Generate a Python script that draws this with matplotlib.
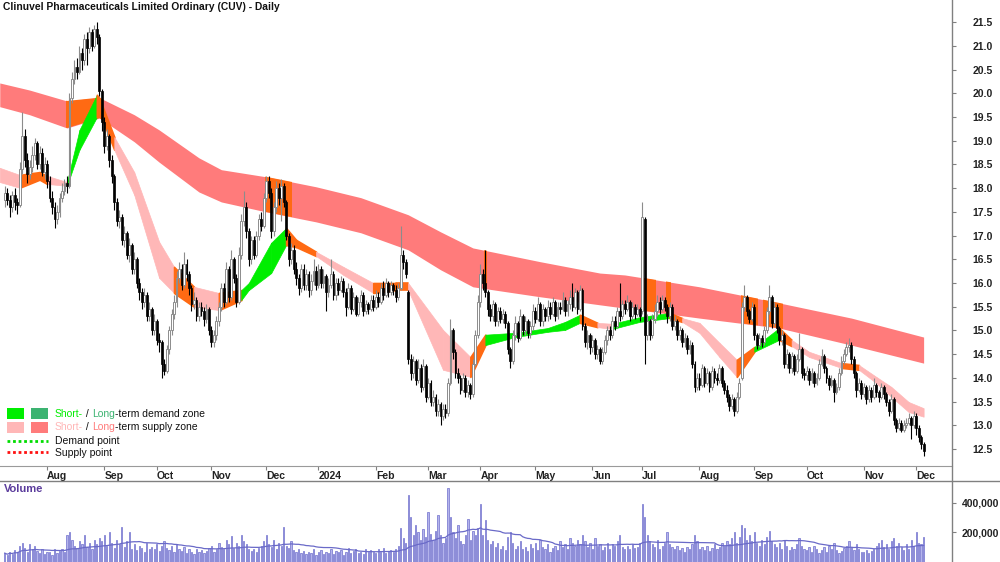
import numpy as np
import pandas as pd
import matplotlib
matplotlib.use('Agg')
import matplotlib.pyplot as plt
from matplotlib.lines import Line2D
from matplotlib.patches import Rectangle

plt.rcParams['font.family'] = ['Liberation Sans', 'DejaVu Sans']

# daily candles, first bar on 7 Jul 2023
opens = [
    17.75, 17.9, 17.75, 17.6, 17.85, 17.7, 17.65, 18.4, 19.1, 18.6,
    18.3, 18.45, 18.7, 18.95, 18.5, 18.75, 18.35, 18.5, 18.15, 17.8,
    17.6, 17.35, 17.5, 17.8, 17.95, 18.1, 18.05, 19.9, 20.3, 20.55,
    20.45, 20.85, 20.7, 21.15, 20.95, 21.3, 21.0, 21.35, 21.2, 20.05,
    19.4, 18.9, 19.1, 18.6, 18.25, 17.7, 17.3, 17.4, 16.9, 17.05,
    16.6, 16.8, 16.3, 16.5, 16.0, 15.8, 15.6, 15.75, 15.3, 15.45,
    15.0, 15.2, 14.8, 14.75, 14.3, 14.15, 14.6, 15.0, 15.35, 15.6,
    16.1, 16.3, 15.95, 16.4, 16.2, 15.9, 15.55, 15.65, 15.3, 15.5,
    15.4, 15.25, 15.45, 15.0, 14.75, 14.9, 15.2, 15.5, 15.9, 15.6,
    16.3, 15.7, 16.5, 16.1, 15.6, 16.6, 17.3, 17.6, 17.1, 16.5,
    16.9, 16.6, 17.0, 17.35, 17.2, 17.8, 18.15, 17.9, 17.1, 17.6,
    18.0, 17.8, 18.05, 17.7, 17.0, 16.5, 16.7, 16.3, 16.1, 15.9,
    16.3, 15.95, 16.2, 15.85, 16.05, 16.25, 15.95, 16.3, 16.0, 16.15,
    15.8, 15.95, 16.2, 15.75, 16.0, 15.85, 16.05, 15.8, 15.5, 15.9,
    15.45, 15.7, 15.35, 15.6, 15.75, 15.4, 15.55, 15.45, 15.65, 15.5,
    15.7, 15.6, 15.9, 15.75, 16.0, 15.8, 15.95, 15.85, 15.7, 15.9,
    16.6, 16.45, 15.8, 14.4, 14.1, 14.35, 13.95, 14.2, 13.8, 14.25,
    13.6, 13.9, 13.5, 13.6, 13.3, 13.45, 13.2, 13.35, 13.25, 13.9,
    15.0, 14.55, 14.1, 14.0, 13.75, 14.0, 13.7, 13.85, 13.65, 14.3,
    14.9, 15.6, 16.2, 16.0, 15.8, 15.45, 15.3, 15.55, 15.2, 15.4,
    15.25, 15.35, 15.15, 14.6, 14.35, 14.9, 15.15, 14.85, 15.3, 15.0,
    15.2, 14.95, 15.1, 15.4, 15.25, 15.55, 15.2, 15.45, 15.3, 15.5,
    15.35, 15.6, 15.3, 15.5, 15.45, 15.65, 15.4, 15.55, 15.7, 15.5,
    15.8, 15.45, 15.85, 15.1, 14.75, 14.9, 14.65, 14.8, 14.5, 14.6,
    14.35, 14.55, 14.8, 15.0, 14.9, 15.2, 15.1, 15.4, 15.3, 15.55,
    15.45, 15.6, 15.3, 15.5, 15.35, 15.45, 15.4, 17.35, 14.9, 15.2,
    14.9, 15.25, 15.4, 15.6, 15.45, 15.65, 15.5, 15.3, 15.5, 15.1,
    15.2, 14.9, 15.0, 14.75, 14.85, 14.6, 14.7, 14.3, 13.8, 14.0,
    13.85, 14.2, 13.9, 14.1, 13.8, 14.15, 14.0, 13.95, 14.2, 13.9,
    13.75, 13.6, 13.4, 13.55, 13.3, 13.6, 14.0, 15.5, 15.7, 15.4,
    15.25, 15.5, 14.9, 14.7, 14.85, 14.75, 15.0, 15.4, 15.7, 15.15,
    15.5, 15.05, 14.8, 14.9, 14.3, 14.5, 14.2, 14.45, 14.15, 14.4,
    14.6, 14.1, 14.05, 14.15, 13.95, 14.1, 13.9, 14.0, 14.3, 14.45,
    14.2, 14.0, 13.85, 13.95, 13.7, 13.8, 14.1, 14.35, 14.5, 14.65,
    14.7, 14.4, 14.1, 13.75, 13.9, 13.65, 13.8, 13.55, 13.75, 13.6,
    13.85, 13.7, 13.6, 13.8, 13.65, 13.5, 13.3, 13.55, 13.1, 12.95,
    13.05, 12.9, 13.0, 13.05, 13.15, 13.0, 13.2, 12.95, 12.75, 12.6,
]
highs = [
    18.05, 18.0, 17.85, 17.95, 18.0, 17.8, 18.55, 19.6, 19.25, 18.75,
    18.6, 18.9, 19.05, 19.0, 18.9, 18.85, 18.65, 18.6, 18.25, 17.95,
    17.7, 17.65, 17.9, 18.1, 18.2, 18.25, 20.0, 20.45, 20.7, 20.75,
    21.0, 20.95, 21.25, 21.3, 21.4, 21.35, 21.45, 21.5, 21.25, 20.1,
    19.5, 19.25, 19.15, 18.7, 18.3, 17.8, 17.55, 17.45, 17.2, 17.1,
    16.95, 16.85, 16.65, 16.55, 16.1, 15.9, 15.9, 15.8, 15.6, 15.5,
    15.35, 15.25, 14.95, 14.8, 14.4, 14.7, 15.1, 15.45, 15.75, 16.25,
    16.45, 16.4, 16.65, 16.5, 16.25, 15.95, 15.8, 15.7, 15.6, 15.6,
    15.5, 15.55, 15.5, 15.1, 15.0, 15.3, 15.6, 16.0, 16.0, 16.45,
    16.35, 16.7, 16.55, 16.2, 16.75, 17.45, 17.95, 17.7, 17.15, 17.0,
    17.0, 17.1, 17.45, 17.5, 17.9, 18.25, 18.25, 18.0, 17.7, 18.15,
    18.1, 18.2, 18.1, 17.75, 17.05, 16.85, 16.8, 16.45, 16.2, 16.4,
    16.4, 16.3, 16.25, 16.2, 16.5, 16.35, 16.4, 16.35, 16.3, 16.2,
    16.1, 16.5, 16.25, 16.1, 16.1, 16.15, 16.1, 15.9, 16.0, 15.95,
    15.8, 15.75, 15.7, 15.85, 15.8, 15.65, 15.6, 15.75, 15.75, 15.85,
    15.8, 16.0, 16.05, 16.1, 16.05, 16.05, 16.0, 15.95, 16.0, 17.2,
    16.7, 16.5, 15.85, 14.5, 14.45, 14.4, 14.4, 14.3, 14.4, 14.3,
    14.0, 13.95, 13.75, 13.65, 13.55, 13.5, 13.45, 13.45, 14.0, 15.25,
    15.05, 14.6, 14.2, 14.05, 14.1, 14.05, 13.95, 13.9, 14.4, 15.0,
    15.75, 16.4, 16.3, 16.7, 15.85, 15.55, 15.65, 15.6, 15.5, 15.5,
    15.45, 15.4, 15.2, 14.65, 15.0, 15.3, 15.2, 15.45, 15.35, 15.3,
    15.25, 15.2, 15.55, 15.5, 15.7, 15.6, 15.55, 15.5, 15.65, 15.6,
    15.7, 15.65, 15.6, 15.6, 15.8, 15.7, 15.65, 15.85, 16.0, 15.9,
    15.85, 15.95, 15.9, 15.15, 15.0, 14.95, 14.9, 14.85, 14.7, 14.65,
    14.65, 14.9, 15.1, 15.1, 15.3, 15.3, 15.5, 16.0, 15.65, 15.65,
    15.75, 15.65, 15.6, 15.55, 15.55, 15.5, 17.7, 17.4, 15.35, 15.25,
    15.35, 15.55, 15.75, 15.7, 15.75, 15.7, 15.55, 15.6, 15.55, 15.3,
    15.25, 15.1, 15.05, 14.95, 14.9, 14.8, 14.75, 14.35, 14.1, 14.1,
    14.3, 14.25, 14.2, 14.15, 14.25, 14.2, 14.1, 14.3, 14.25, 13.95,
    13.85, 13.65, 13.65, 13.6, 13.7, 14.0, 15.6, 15.95, 15.75, 15.45,
    15.6, 15.55, 14.95, 14.95, 14.9, 15.1, 15.5, 15.95, 15.75, 15.6,
    15.55, 15.1, 15.0, 14.95, 14.6, 14.55, 14.55, 14.5, 14.5, 14.95,
    14.65, 14.2, 14.25, 14.2, 14.2, 14.15, 14.1, 14.4, 14.6, 14.5,
    14.25, 14.05, 14.05, 14.0, 13.9, 14.2, 14.45, 14.6, 14.75, 14.85,
    14.75, 14.45, 14.15, 14.0, 13.95, 13.9, 13.85, 13.85, 13.8, 14.0,
    13.9, 13.75, 13.9, 13.85, 13.7, 13.55, 13.65, 13.6, 13.15, 13.15,
    13.1, 13.1, 13.15, 13.25, 13.2, 13.3, 13.25, 13.0, 12.8, 12.65,
]
lows = [
    17.6, 17.65, 17.4, 17.5, 17.55, 17.45, 17.6, 18.3, 18.45, 18.1,
    18.2, 18.35, 18.6, 18.4, 18.4, 18.25, 18.2, 18.0, 17.7, 17.45,
    17.15, 17.25, 17.4, 17.7, 17.85, 17.9, 18.0, 19.8, 20.2, 20.3,
    20.4, 20.5, 20.6, 20.6, 20.85, 20.9, 20.95, 21.05, 19.95, 19.2,
    18.75, 18.8, 18.45, 18.1, 17.55, 17.2, 17.15, 16.8, 16.75, 16.5,
    16.45, 16.2, 16.2, 15.9, 15.65, 15.45, 15.5, 15.2, 15.2, 14.9,
    14.9, 14.7, 14.55, 14.0, 14.05, 14.1, 14.5, 14.9, 15.25, 15.5,
    16.0, 15.85, 15.9, 16.05, 15.75, 15.4, 15.45, 15.2, 15.2, 15.3,
    15.1, 15.15, 14.9, 14.65, 14.65, 14.8, 15.1, 15.4, 15.5, 15.55,
    15.6, 15.65, 16.0, 15.5, 15.55, 16.5, 17.2, 16.95, 16.35, 16.4,
    16.5, 16.55, 16.9, 17.1, 17.15, 17.7, 17.8, 16.95, 17.0, 17.5,
    17.65, 17.3, 17.6, 16.9, 16.35, 16.4, 16.2, 15.95, 15.75, 15.8,
    15.85, 15.85, 15.7, 15.75, 15.95, 15.85, 15.9, 15.9, 15.9, 15.4,
    15.7, 15.9, 15.65, 15.65, 15.75, 15.8, 15.7, 15.3, 15.45, 15.35,
    15.4, 15.3, 15.3, 15.5, 15.3, 15.35, 15.35, 15.4, 15.4, 15.45,
    15.5, 15.55, 15.65, 15.7, 15.7, 15.75, 15.75, 15.6, 15.65, 15.85,
    16.3, 16.1, 14.3, 13.95, 14.0, 13.85, 13.9, 13.7, 13.75, 13.5,
    13.55, 13.4, 13.4, 13.2, 13.2, 13.0, 13.1, 13.15, 13.2, 13.85,
    14.4, 14.0, 13.9, 13.65, 13.7, 13.6, 13.6, 13.55, 13.6, 14.25,
    14.85, 15.5, 15.85, 15.7, 15.3, 15.2, 15.2, 15.1, 15.1, 15.15,
    15.15, 15.05, 14.5, 14.2, 14.3, 14.8, 14.75, 14.8, 14.9, 14.9,
    14.85, 14.85, 15.0, 15.15, 15.2, 15.1, 15.1, 15.2, 15.2, 15.25,
    15.3, 15.2, 15.25, 15.35, 15.4, 15.3, 15.3, 15.45, 15.4, 15.45,
    15.35, 15.4, 15.0, 14.65, 14.6, 14.5, 14.55, 14.4, 14.4, 14.3,
    14.3, 14.5, 14.7, 14.8, 14.85, 15.0, 15.05, 15.2, 15.25, 15.35,
    15.4, 15.2, 15.25, 15.25, 15.3, 15.2, 15.35, 14.3, 14.8, 14.8,
    14.85, 15.15, 15.3, 15.35, 15.4, 15.4, 15.15, 15.2, 15.0, 15.0,
    14.8, 14.8, 14.65, 14.65, 14.5, 14.5, 14.2, 13.7, 13.75, 13.75,
    13.8, 13.8, 13.85, 13.7, 13.75, 13.9, 13.85, 13.9, 13.8, 13.65,
    13.5, 13.3, 13.35, 13.2, 13.25, 13.55, 13.95, 15.4, 15.3, 15.15,
    15.2, 14.8, 14.6, 14.65, 14.65, 14.7, 14.95, 15.35, 15.05, 15.1,
    14.95, 14.7, 14.7, 14.2, 14.2, 14.1, 14.1, 14.05, 14.1, 14.35,
    14.0, 13.95, 13.95, 13.85, 13.9, 13.8, 13.85, 13.95, 14.25, 14.1,
    13.9, 13.75, 13.8, 13.5, 13.65, 13.75, 14.05, 14.3, 14.45, 14.55,
    14.3, 14.0, 13.6, 13.7, 13.55, 13.6, 13.45, 13.5, 13.5, 13.55,
    13.6, 13.5, 13.55, 13.55, 13.4, 13.2, 13.25, 13.0, 12.85, 12.9,
    12.85, 12.85, 12.95, 13.0, 12.7, 12.95, 12.8, 12.65, 12.5, 12.35,
]
closes = [
    17.9, 17.75, 17.6, 17.85, 17.7, 17.65, 18.4, 19.1, 18.6, 18.3,
    18.45, 18.7, 18.95, 18.5, 18.75, 18.35, 18.5, 18.15, 17.8, 17.6,
    17.35, 17.5, 17.8, 17.95, 18.1, 18.05, 19.9, 20.3, 20.55, 20.45,
    20.85, 20.7, 21.15, 20.95, 21.3, 21.0, 21.35, 21.2, 20.05, 19.4,
    18.9, 19.1, 18.6, 18.25, 17.7, 17.3, 17.4, 16.9, 17.05, 16.6,
    16.8, 16.3, 16.5, 16.0, 15.8, 15.6, 15.75, 15.3, 15.45, 15.0,
    15.2, 14.8, 14.75, 14.3, 14.15, 14.6, 15.0, 15.35, 15.6, 16.1,
    16.3, 15.95, 16.4, 16.2, 15.9, 15.55, 15.65, 15.3, 15.5, 15.4,
    15.25, 15.45, 15.0, 14.75, 14.9, 15.2, 15.5, 15.9, 15.6, 16.3,
    15.7, 16.5, 16.1, 15.6, 16.6, 17.3, 17.6, 17.1, 16.5, 16.9,
    16.6, 17.0, 17.35, 17.2, 17.8, 18.15, 17.9, 17.1, 17.6, 18.0,
    17.8, 18.05, 17.7, 17.0, 16.5, 16.7, 16.3, 16.1, 15.9, 16.3,
    15.95, 16.2, 15.85, 16.05, 16.25, 15.95, 16.3, 16.0, 16.15, 15.8,
    15.95, 16.2, 15.75, 16.0, 15.85, 16.05, 15.8, 15.5, 15.9, 15.45,
    15.7, 15.35, 15.6, 15.75, 15.4, 15.55, 15.45, 15.65, 15.5, 15.7,
    15.6, 15.9, 15.75, 16.0, 15.8, 15.95, 15.85, 15.7, 15.9, 16.6,
    16.45, 16.2, 14.4, 14.1, 14.35, 13.95, 14.2, 13.8, 14.25, 13.6,
    13.9, 13.5, 13.6, 13.3, 13.45, 13.2, 13.35, 13.25, 13.9, 15.0,
    14.55, 14.1, 14.0, 13.75, 14.0, 13.7, 13.85, 13.65, 14.3, 14.9,
    15.6, 16.2, 16.0, 15.8, 15.45, 15.3, 15.55, 15.2, 15.4, 15.25,
    15.35, 15.15, 14.6, 14.35, 14.9, 15.15, 14.85, 15.3, 15.0, 15.2,
    14.95, 15.1, 15.4, 15.25, 15.55, 15.2, 15.45, 15.3, 15.5, 15.35,
    15.6, 15.3, 15.5, 15.45, 15.65, 15.4, 15.55, 15.7, 15.5, 15.8,
    15.45, 15.85, 15.1, 14.75, 14.9, 14.65, 14.8, 14.5, 14.6, 14.35,
    14.55, 14.8, 15.0, 14.9, 15.2, 15.1, 15.4, 15.3, 15.55, 15.45,
    15.6, 15.3, 15.5, 15.35, 15.45, 15.3, 17.4, 14.9, 15.2, 14.9,
    15.25, 15.4, 15.6, 15.45, 15.65, 15.5, 15.3, 15.5, 15.1, 15.2,
    14.9, 15.0, 14.75, 14.85, 14.6, 14.7, 14.3, 13.8, 14.0, 13.85,
    14.2, 13.9, 14.1, 13.8, 14.15, 14.0, 13.95, 14.2, 13.9, 13.75,
    13.6, 13.4, 13.55, 13.3, 13.6, 13.9, 15.5, 15.7, 15.4, 15.25,
    15.5, 14.9, 14.7, 14.85, 14.75, 15.0, 15.4, 15.7, 15.15, 15.5,
    15.05, 14.8, 14.9, 14.3, 14.5, 14.2, 14.45, 14.15, 14.4, 14.6,
    14.1, 14.05, 14.15, 13.95, 14.1, 13.9, 14.0, 14.3, 14.45, 14.2,
    14.0, 13.85, 13.95, 13.7, 13.8, 14.1, 14.35, 14.5, 14.65, 14.7,
    14.4, 14.1, 13.75, 13.9, 13.65, 13.8, 13.55, 13.75, 13.6, 13.85,
    13.7, 13.6, 13.8, 13.65, 13.5, 13.3, 13.55, 13.1, 12.95, 13.05,
    12.9, 13.0, 13.05, 13.15, 13.0, 13.2, 12.95, 12.75, 12.6, 12.45,
]
volume_k = [
    60, 45, 70, 55, 80, 65, 110, 130, 95, 70,
    120, 85, 110, 75, 60, 90, 55, 70, 65, 50,
    85, 60, 75, 90, 70, 180, 205, 150, 110, 95,
    140, 120, 180, 100, 130, 85, 150, 120, 160, 140,
    180, 110, 200, 130, 95, 150, 120, 235, 100, 140,
    205, 90, 120, 80, 110, 95, 70, 130, 85, 100,
    90, 120, 75, 110, 140, 95, 80, 105, 70, 120,
    90, 75, 100, 60, 85, 70, 55, 90, 65, 80,
    60, 75, 95, 110, 70, 85, 130, 100, 90, 150,
    120, 175, 95, 130, 110, 180, 140, 120, 90, 75,
    85, 70, 95, 110, 140, 180, 120, 100, 150, 90,
    130, 110, 235, 105, 95, 140, 80, 70, 90, 60,
    75, 55, 70, 60, 85, 50, 65, 80, 55, 70,
    60, 90, 55, 75, 65, 80, 50, 70, 95, 60,
    75, 85, 60, 70, 55, 90, 65, 80, 70, 60,
    85, 70, 95, 60, 75, 80, 65, 90, 110, 230,
    160, 130, 450, 300, 180, 250, 200, 150, 220, 170,
    340, 190, 150, 210, 320, 180, 130, 160, 500, 300,
    200, 160, 250, 140, 120, 180, 290, 150, 210, 180,
    230, 390, 180, 280, 150, 120, 140, 100, 130, 90,
    110, 80, 170, 200, 130, 90, 110, 140, 85, 100,
    75, 120, 95, 130, 80, 150, 100, 90, 120, 70,
    95, 110, 80, 140, 100, 120, 90, 160, 130, 110,
    150, 120, 180, 140, 100, 130, 90, 160, 110, 120,
    80, 100, 130, 90, 120, 110, 140, 180, 100, 90,
    110, 85, 120, 95, 100, 130, 390, 300, 180, 140,
    120, 100, 150, 90, 110, 130, 200, 120, 100, 90,
    110, 80, 95, 70, 100, 85, 120, 180, 140, 90,
    100, 80, 110, 75, 95, 120, 85, 100, 130, 110,
    140, 120, 160, 200, 130, 170, 250, 230, 150, 180,
    140, 200, 130, 110, 150, 120, 170, 210, 140, 120,
    100, 130, 90, 150, 110, 80, 100, 90, 120, 160,
    110, 90, 80, 100, 70, 110, 90, 60, 80, 100,
    70, 110, 90, 130, 80, 60, 75, 95, 110, 140,
    100, 80, 120, 90, 70, 65, 80, 60, 75, 90,
    110, 130, 150, 100, 120, 90, 140, 160, 110, 130,
    100, 80, 120, 90, 150, 110, 200, 130, 120, 170,
]

# long-term supply zone (bar index, upper, lower)
lt_idx = [-2, 10, 25, 38, 52, 62, 78, 87, 105, 125, 143, 162, 175, 188, 215, 239, 249, 279, 311, 340, 369]
lt_top = [20.22, 20.07, 19.84, 19.91, 19.55, 19.23, 18.64, 18.39, 18.24, 18.03, 17.8, 17.44, 17.08, 16.74,
          16.45, 16.21, 16.17, 15.92, 15.58, 15.26, 14.86]
lt_bot = [19.72, 19.55, 19.27, 19.48, 18.98, 18.55, 17.92, 17.71, 17.5, 17.29, 17.06, 16.7, 16.28, 15.92,
          15.71, 15.54, 15.47, 15.26, 15.05, 14.69, 14.31]
# bars where price sits inside the long-term zone
lt_hot = [(25, 39), (105, 115), (193, 193), (256, 261), (266, 267), (296, 302), (305, 312)]

# short-term zone: points and the state of each following segment
st_idx = [-2, 6, 14, 17, 25, 30, 37, 38, 44, 52, 62, 68, 76, 86, 95, 98, 107, 113, 117, 125, 136, 148,
          157, 162, 176, 187, 193, 205, 218, 225, 231, 238, 244, 255, 267, 272, 279, 287, 294, 301, 311,
          316, 323, 336, 343, 350, 356, 363, 369]
st_top = [18.43, 18.28, 18.34, 18.26, 18.13, 19.23, 19.97, 19.9, 19.08, 18.34, 16.87, 16.34, 15.92, 15.79,
          15.85, 16.0, 16.85, 17.16, 16.91, 16.66, 16.34, 16.0, 16.0, 16.0, 15.01, 14.44, 14.91, 14.95,
          15.05, 15.18, 15.33, 15.16, 15.14, 15.28, 15.37, 15.26, 15.16, 14.74, 14.38, 14.65, 15.05,
          14.8, 14.55, 14.31, 14.27, 14.02, 13.81, 13.49, 13.36]
st_bot = [18.13, 18.01, 18.18, 18.09, 18.05, 18.81, 19.5, 19.61, 18.81, 17.86, 16.11, 15.79, 15.5, 15.43,
          15.64, 15.85, 16.21, 16.8, 16.76, 16.57, 16.17, 15.79, 15.85, 15.85, 14.17, 14.02, 14.69, 14.86,
          14.97, 15.01, 15.16, 15.07, 15.03, 15.18, 15.26, 15.18, 14.95, 14.44, 14.02, 14.55, 14.8,
          14.67, 14.44, 14.21, 14.17, 13.89, 13.6, 13.28, 13.18]
st_state = ['p', 'o', 'o', 'p', 'g', 'g', 'o', 'o', 'p', 'p',
            'p', 'o', 'p', 'o', 'g', 'g', 'g', 'o', 'o', 'p',
            'p', 'o', 'o', 'p', 'p', 'o', 'g', 'g', 'g', 'g',
            'o', 'p', 'g', 'g', 'o', 'p', 'p', 'p', 'o', 'g',
            'o', 'p', 'p', 'o', 'p', 'p', 'p', 'p']

C_LT = '#FF7B7B'
C_ST = '#FFB7B7'
C_DEM = '#00EE00'
C_LDEM = '#3CB371'
C_HOT = '#FF6A13'
seg_colors = {'p': C_ST, 'g': C_DEM, 'o': C_HOT}

dates = pd.bdate_range('2023-07-07', periods=len(closes))
x = np.arange(len(closes))
o = np.array(opens)
h = np.array(highs)
l = np.array(lows)
c = np.array(closes)
vol = np.array(volume_k) * 1000.0

W, H = 1000, 562
fig = plt.figure(figsize=(10, 5.62), dpi=100)
ax = fig.add_axes([0, 1 - 466 / H, 952 / W, 466 / H])
axv = fig.add_axes([0, 0, 952 / W, 81 / H])
x0, x1 = -1.9, 380.4
ax.set_xlim(x0, x1)
axv.set_xlim(x0, x1)
ax.set_ylim(12.14, 21.97)
axv.set_ylim(0, 546000)

# long-term band with hot spots
band = ax.fill_between(lt_idx, lt_top, lt_bot, color=C_LT, lw=0, zorder=1)
for a, b in lt_hot:
    r = ax.axvspan(a - 0.5, b + 0.5, color=C_HOT, lw=0, zorder=1.5)
    r.set_clip_path(band.get_paths()[0], ax.transData)

# short-term band
for k in range(len(st_idx) - 1):
    col = seg_colors[st_state[k]]
    ax.fill_between(st_idx[k:k + 2], st_top[k:k + 2], st_bot[k:k + 2], color=col,
                    edgecolor=col, lw=1.2 if st_state[k] == 'o' else 0.5, zorder=2)

# candles
up = c >= o
wick_col = np.where(up, '#8C8C8C', '#000000')
ax.vlines(x, l, h, colors=wick_col, lw=0.8, zorder=3)
body_lo = np.minimum(o, c)
body_h = np.maximum(np.abs(c - o), 0.02)
ax.bar(x[up], body_h[up], bottom=body_lo[up], width=0.75, color='white',
       edgecolor='#8C8C8C', lw=0.7, zorder=4)
ax.bar(x[~up], body_h[~up], bottom=body_lo[~up], width=0.75, color='black',
       edgecolor='black', lw=0.5, zorder=4)

# volume
axv.bar(x, vol, width=0.5, color='#B4B4EC', edgecolor='#6E6ECC', lw=0.5)
vol_ma = pd.Series(vol).rolling(30, min_periods=1).mean()
axv.plot(x, vol_ma, color='#6A6AC8', lw=0.9)

# month ticks
new_month = np.r_[False, dates.month[1:] != dates.month[:-1]]
mpos = x[new_month]
mlab = [d.strftime('%b') if d.month != 1 else str(d.year) for d in dates[new_month]]
ax.set_xticks(mpos)
ax.set_xticklabels(mlab, ha='left', fontsize=7.5, fontweight='bold', color='#222222')
ax.tick_params(axis='x', direction='out', length=3, color='#808080', pad=0.5)

ax.yaxis.tick_right()
yt = np.arange(12.5, 21.51, 0.5)
ax.set_yticks(yt)
ax.set_yticklabels([f'{v:.1f}' for v in yt], fontsize=7.5, fontweight='bold', color='#222222')
ax.tick_params(axis='y', direction='out', length=3, color='#808080', pad=12)

axv.set_xticks([])
axv.yaxis.tick_right()
axv.set_yticks([200000, 400000])
axv.set_yticklabels(['200,000', '400,000'], fontsize=7.5, fontweight='bold', color='#222222')
axv.tick_params(axis='y', direction='out', length=3, color='#808080', pad=4)

for a in (ax, axv):
    for s in a.spines.values():
        s.set_visible(False)
ax.spines['bottom'].set_visible(True)
ax.spines['bottom'].set_color('#9A9A9A')

# frame lines
fig.add_artist(Line2D([952 / W, 952 / W], [0, 1], color='#808080', lw=1))
fig.add_artist(Line2D([0, 1], [1 - 481 / H, 1 - 481 / H], color='#808080', lw=1))


def fx(px):
    return px / W


def fy(py):
    return 1 - py / H


fig.text(fx(3), fy(7), 'Clinuvel Pharmaceuticals Limited Ordinary (CUV) - Daily',
         fontsize=7.4, fontweight='bold', va='center', ha='left', color='#111111')
fig.text(fx(4), fy(489), 'Volume', fontsize=8, fontweight='bold', va='center',
         ha='left', color='#5B3C9C')

# legend
for (px, py, col) in [(7, 408, C_DEM), (31, 408, C_LDEM), (7, 422, C_ST), (31, 422, C_LT)]:
    fig.add_artist(Rectangle((fx(px), fy(py + 11)), 17 / W, 11 / H, transform=fig.transFigure,
                             color=col, lw=0))
fig.add_artist(Line2D([fx(7), fx(48)], [fy(441), fy(441)], color='#00DD00', lw=2,
                      linestyle=(0, (1, 1))))
fig.add_artist(Line2D([fx(7), fx(48)], [fy(452), fy(452)], color='#FF1010', lw=2,
                      linestyle=(0, (1, 1))))

rows = [
    (414, [('Short-', C_DEM), (' / ', '#111111'), ('Long', C_LDEM), ('-term demand zone', '#111111')]),
    (427, [('Short-', C_ST), (' / ', '#111111'), ('Long', C_LT), ('-term supply zone', '#111111')]),
    (441, [('Demand point', '#111111')]),
    (453, [('Supply point', '#111111')]),
]
for py, parts in rows:
    t = fig.text(fx(55), fy(py), parts[0][0], color=parts[0][1], fontsize=7.5,
                 va='center', ha='left')
    for s, col in parts[1:]:
        t = ax.annotate(s, xy=(1, 0), xycoords=t, va='bottom', ha='left', color=col,
                        fontsize=7.5, annotation_clip=False)

fig.savefig('out.png', dpi=100)
